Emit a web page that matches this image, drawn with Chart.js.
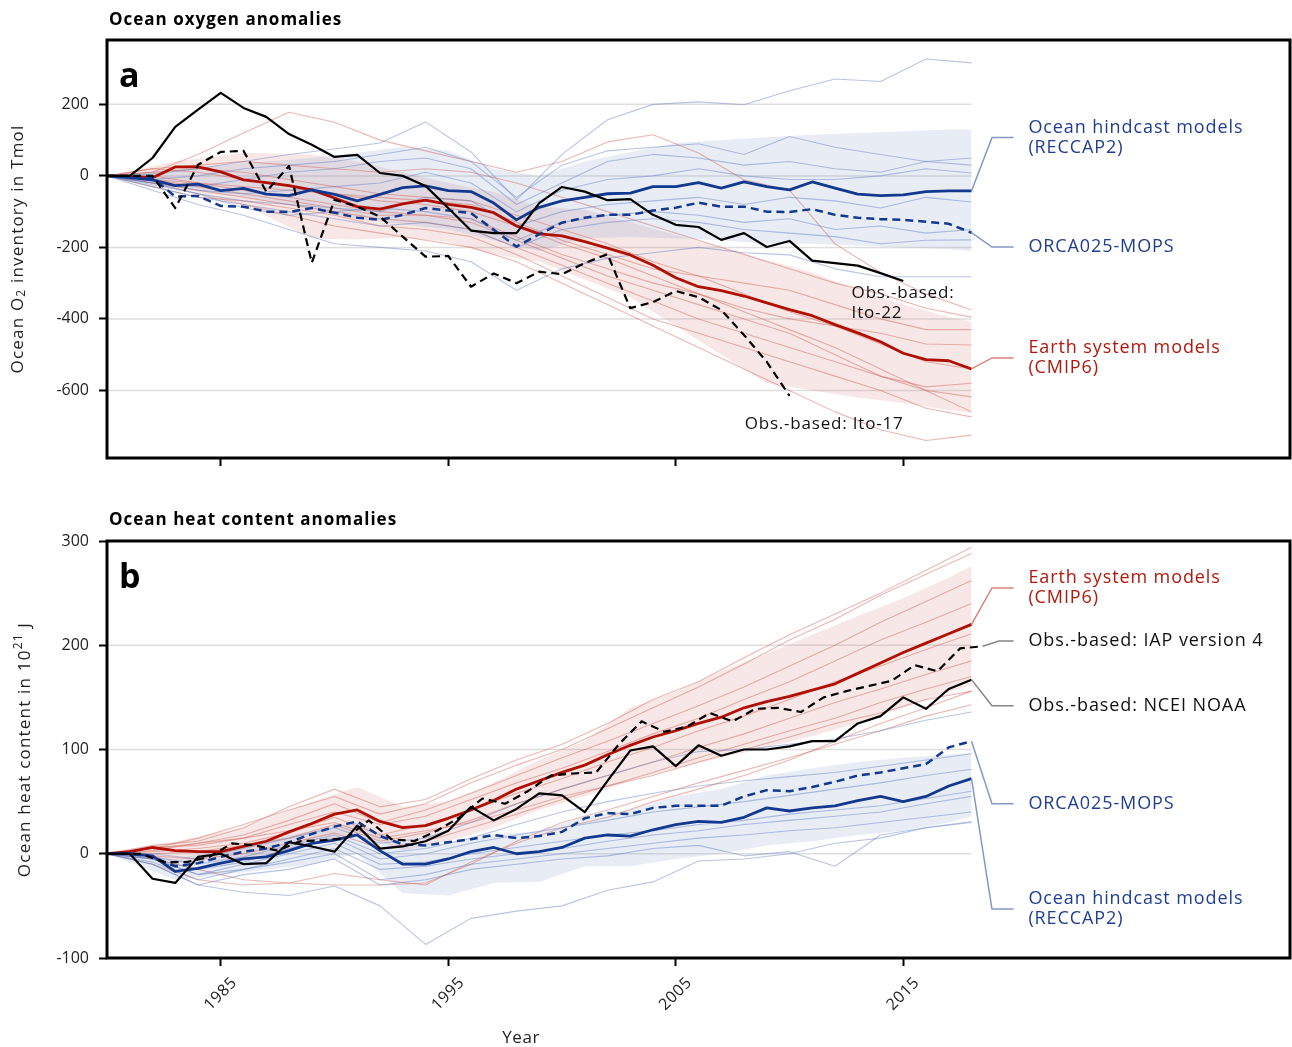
<!DOCTYPE html>
<html>
<head>
<meta charset="utf-8">
<title>Ocean oxygen and heat content anomalies</title>
<script src="https://cdn.jsdelivr.net/npm/chart.js@4.4.1/dist/chart.umd.min.js"></script>
<style>
  body { margin: 0; background: #fff; }
  canvas { position: absolute; left: 0; }
  #chartTop { top: 0; }
  #chartBottom { top: 500px; }
</style>
</head>
<body>
<canvas id="chartTop" width="1292" height="500"></canvas>
<canvas id="chartBottom" width="1292" height="547"></canvas>
<script>
// years
const years = [1980, 1981, 1982, 1983, 1984, 1985, 1986, 1987, 1988, 1989,
  1990, 1991, 1992, 1993, 1994, 1995, 1996, 1997, 1998, 1999,
  2000, 2001, 2002, 2003, 2004, 2005, 2006, 2007, 2008, 2009,
  2010, 2011, 2012, 2013, 2014, 2015, 2016, 2017, 2018];
const iapYears = [1980, 1981.5, 1982.5, 1983.5, 1984.5, 1985.5, 1986.5, 1987.5, 1988.5, 1989.5,
  1990.5, 1991.5, 1992.5, 1993.5, 1994.5, 1995.5, 1996.5, 1997.5, 1998.5, 1999.5,
  2000.5, 2001.5, 2002.5, 2003.5, 2004.5, 2005.5, 2006.5, 2007.5, 2008.5, 2009.5,
  2010.5, 2011.5, 2012.5, 2013.5, 2014.5, 2015.5, 2016.5, 2017.5, 2018.5];
const thinYears = [1980, 1982, 1984, 1986, 1988, 1990, 1992, 1994, 1996, 1998,
  2000, 2002, 2004, 2006, 2008, 2010, 2012, 2014, 2016, 2018];
const bandYears = [1980, 1983, 1986, 1989, 1991, 1993, 1995, 1997, 1999, 2001,
  2003, 2005, 2007, 2009, 2011, 2013, 2015, 2017, 2018];

// panel a: ocean O2 inventory (Tmol)
const o2EsmMean = [0, -2, -5, 25, 25, 11, -11, -19, -27, -39, -62, -86, -93, -78, -68, -80, -88, -103, -140, -162,
  -168, -184, -202, -221, -250, -285, -310, -321, -336, -355, -374, -391, -416, -439, -464, -496, -514, -517, -540];
const o2RecMean = [0, -5, -11, -27, -23, -41, -35, -51, -55, -39, -52, -70, -52, -33, -28, -41, -44, -76, -123, -88,
  -70, -60, -50, -48, -30, -30, -19, -34, -17, -30, -39, -17, -34, -51, -55, -53, -44, -42, -42];
const o2OrcaMean = [0, 0, -5, -58, -56, -84, -86, -100, -101, -90, -103, -117, -123, -109, -90, -97, -104, -151, -198, -163,
  -131, -117, -109, -109, -97, -89, -75, -86, -86, -100, -101, -93, -109, -117, -121, -123, -128, -134, -159];
const o2Ito22 = [0, 0, 50, 137, 185, 232, 190, 165, 117, 87, 53, 59, 8, 0, -28, -90, -153, -160, -160, -76,
  -31, -44, -68, -65, -109, -137, -143, -179, -160, -199, -182, -237, -244, -251, -272, -294];
const o2Ito17 = [0, 0, 0, -90, 31, 67, 70, -44, 28, -243, -67, -86, -114, -170, -226, -224, -310, -273, -300, -268,
  -275, -244, -219, -370, -353, -322, -339, -375, -445, -520, -615];
const o2RecBandHi = [0, 20, 35, 50, 65, 81, 70, 20, 0, 40, 67, 92, 100, 108, 115, 120, 125, 130, 130];
const o2RecBandLo = [0, -35, -60, -95, -120, -135, -150, -180, -210, -175, -170, -175, -180, -190, -190, -195, -200, -205, -210];
const o2EsmBandHi = [0, 40, 65, 60, 40, 10, -20, -45, -86, -95, -130, -165, -198, -235, -270, -320, -360, -395, -408];
const o2EsmBandLo = [0, -30, -80, -175, -178, -172, -185, -220, -240, -290, -340, -420, -500, -580, -600, -620, -635, -655, -663];
const o2RecModels = [
  [0, 5, 20, 40, 60, 75, 92, 151, 67, -67, 60, 157, 200, 207, 199, 238, 271, 264, 327, 316],
  [0, -10, 0, 20, 30, 40, 60, 80, 40, -60, 30, 70, 80, 90, 60, 110, 80, 60, 40, 50],
  [0, -20, -30, -10, 10, 20, 40, 50, 20, -80, -20, 40, 60, 50, 30, 40, 20, 10, 40, 30],
  [0, -15, -40, -50, -40, -30, -20, 10, -20, -100, -40, -10, 0, 20, 0, -10, -10, 0, 20, 8],
  [0, -20, -50, -70, -80, -90, -100, -60, -70, -140, -100, -80, -70, -60, -80, -60, -70, -90, -60, -73],
  [0, -30, -60, -80, -100, -120, -140, -130, -150, -200, -150, -130, -120, -130, -150, -160, -170, -190, -180, -179],
  [0, -25, -50, -90, -110, -100, -90, -100, -120, -180, -130, -110, -100, -110, -130, -120, -150, -140, -160, -150],
  [0, -40, -80, -110, -150, -190, -200, -210, -240, -320, -260, -230, -215, -200, -215, -221, -260, -282, -282, -282]
];
const o2EsmModels = [
  [0, 10, 60, 120, 178, 150, 100, 70, 40, 10, 40, 95, 115, 64, -11, -40, -190, -270, -330, -375],
  [0, 20, 30, 40, 30, 20, 10, 20, 10, -20, -60, -100, -140, -180, -220, -260, -300, -330, -370, -395],
  [0, -10, -20, -40, -60, -80, -100, -110, -120, -170, -220, -260, -300, -330, -370, -400, -420, -440, -470, -473],
  [0, -20, -40, -60, -80, -100, -120, -130, -150, -200, -250, -300, -350, -400, -440, -480, -520, -560, -600, -618],
  [0, -30, -60, -70, -90, -110, -140, -150, -170, -220, -280, -340, -400, -440, -480, -520, -560, -600, -650, -674],
  [0, -20, -50, -80, -110, -140, -160, -180, -200, -240, -300, -360, -420, -480, -540, -600, -660, -710, -740, -725],
  [0, 10, 20, 10, -10, -30, -50, -60, -70, -110, -150, -190, -240, -280, -330, -380, -420, -470, -520, -540],
  [0, 0, -20, -30, -40, -50, -60, -70, -80, -130, -180, -220, -260, -280, -300, -320, -360, -400, -430, -430],
  [0, -10, -30, -50, -70, -90, -110, -110, -130, -180, -230, -280, -320, -360, -400, -440, -500, -560, -590, -580],
  [0, 20, 10, -10, -30, -50, -70, -80, -100, -140, -190, -230, -280, -330, -380, -430, -480, -540, -600, -660]
];
const o2Ticks = [-600, -400, -200, 0, 200];

// panel b: ocean heat content (10^21 J)
const ohcEsmMean = [0, 2, 6, 3, 2, 2, 7, 12, 21, 29, 38, 42, 31, 25, 27, 34, 42, 51, 62, 70,
  78, 85, 95, 104, 112, 118, 125, 131, 140, 146, 151, 157, 163, 173, 183, 193, 202, 211, 220];
const ohcRecMean = [0, 0, -2, -17, -14, -9, -5, -3, 3, 10, 13, 18, 3, -10, -10, -5, 2, 6, 0, 2,
  6, 15, 18, 17, 23, 28, 31, 30, 35, 44, 41, 44, 46, 51, 55, 50, 55, 65, 72];
const ohcOrcaMean = [0, 0, -3, -12, -9, -3, 2, 5, 11, 19, 26, 31, 17, 9, 8, 11, 14, 18, 15, 17,
  21, 34, 39, 38, 44, 46, 46, 46, 55, 61, 60, 64, 69, 75, 78, 82, 86, 102, 108];
const ohcNcei = [0, 0, -24, -28, -3, 0, -10, -9, 11, 7, 2, 27, 5, 7, 12, 22, 45, 32, 43, 58,
  56, 40, 70, 99, 103, 84, 104, 94, 100, 100, 103, 108, 108, 125, 132, 150, 139, 158, 167];
const ohcIap = [0, 0, -8, -8, -3, 10, 8, 3, 12, 13, 15, 32, 14, 12, 22, 35, 53, 48, 60, 75,
  77, 78, 105, 127, 117, 122, 135, 127, 139, 140, 136, 150, 156, 161, 166, 181, 175, 197, 199];
const ohcRecBandHi = [0, -5, 8, 22, 30, 10, 10, 18, 22, 35, 42, 55, 62, 75, 82, 88, 92, 95, 97];
const ohcRecBandLo = [0, -25, -18, -10, 0, -38, -40, -28, -27, -12, -12, -5, 0, 8, 12, 18, 22, 30, 36];
const ohcEsmBandHi = [0, 12, 25, 50, 64, 45, 50, 68, 90, 108, 140, 155, 175, 192, 210, 228, 245, 265, 276];
const ohcEsmBandLo = [0, -8, -5, 8, 20, 3, 12, 25, 42, 55, 70, 82, 92, 102, 113, 125, 140, 155, 162];
const ohcRecModels = [
  [0, 0, -5, 5, 15, 25, 10, 15, 30, 48, 62, 75, 88, 98, 100, 105, 110, 118, 128, 136],
  [0, -3, -10, -3, 8, 18, 0, 5, 15, 28, 40, 50, 58, 65, 70, 74, 78, 84, 90, 96],
  [0, -5, -15, -8, 5, 15, -5, 0, 10, 18, 25, 32, 40, 45, 50, 56, 62, 68, 75, 81],
  [0, -5, -20, -10, 0, 10, -10, -8, 0, 6, 12, 18, 22, 28, 32, 38, 42, 46, 53, 60],
  [0, -8, -25, -15, -5, 5, -15, -12, -5, 0, 5, 12, 18, 22, 28, 32, 36, 40, 48, 55],
  [0, -5, -20, -15, -8, 0, -25, -20, -10, -5, 0, 5, 10, 15, 18, 22, 25, 30, 35, 40],
  [0, -10, -30, -20, -15, -5, -30, -25, -15, -10, -5, -2, 5, 8, -2, 2, -12, 18, 25, 31],
  [0, -10, -30, -37, -40, -31, -50, -87, -62, -55, -50, -35, -27, -7, -5, 0, 10, 15, 25, 30]
];
const ohcEsmModels = [
  [0, 8, 12, 25, 45, 62, 45, 52, 72, 90, 105, 125, 148, 165, 188, 210, 230, 250, 272, 294],
  [0, 5, 15, 28, 42, 55, 38, 48, 68, 85, 100, 120, 140, 160, 182, 205, 225, 248, 268, 288],
  [0, 3, 10, 18, 32, 48, 30, 42, 58, 75, 92, 108, 125, 142, 160, 180, 200, 222, 242, 262],
  [0, 6, 8, 15, 28, 40, 28, 36, 52, 68, 82, 98, 115, 130, 148, 165, 185, 205, 222, 240],
  [0, 2, 5, 10, 20, 35, 18, 28, 42, 58, 72, 88, 102, 118, 132, 148, 165, 180, 196, 211],
  [0, 0, 2, 8, 15, 28, 12, 20, 32, 48, 62, 75, 88, 102, 115, 130, 145, 158, 172, 185],
  [0, -2, -5, 0, 10, 20, 5, 12, 25, 38, 52, 65, 78, 92, 105, 118, 130, 145, 158, 170],
  [0, 5, 10, 15, 22, 30, 15, 22, 30, 42, 55, 65, 75, 88, 100, 112, 125, 135, 148, 156],
  [0, -5, -15, -25, -28, -30, -30, -28, -10, 12, 30, 42, 55, 68, 80, 92, 105, 118, 132, 143],
  [0, -10, -25, -30, -28, -19, -25, -30, -8, 10, 25, 35, 50, 62, 75, 90, 108, 125, 140, 156]
];
const ohcTicks = [-100, 0, 100, 200, 300];
const xTicks = [1985, 1995, 2005, 2015];

const FONT = "'Open Sans', sans-serif";
const BLUE = '#12398f';
const RED = '#b10f02';
const BLUE_TEXT = '#1f3e92';
const RED_TEXT = '#b2170c';
const BLUE_THIN = 'rgba(95,125,195,0.45)';
const RED_THIN = 'rgba(210,95,85,0.45)';
const BLUE_BAND = 'rgba(120,150,200,0.18)';
const RED_BAND = 'rgba(210,120,115,0.18)';
const BLUE_LINK = '#8399c8';
const RED_LINK = '#d9837c';
const GREY_LINK = '#858585';

function pts(xs, ys) {
  return ys.map((v, i) => ({ x: xs[i], y: v }));
}

function line(xs, ys, color, width, dash, order) {
  return {
    data: pts(xs, ys), borderColor: color, borderWidth: width, borderDash: dash || [],
    pointRadius: 0, fill: false, tension: 0, order: order, borderJoinStyle: 'round'
  };
}

function band(lo, hi, color) {
  return [
    { data: pts(bandYears, lo), borderColor: 'rgba(0,0,0,0)', borderWidth: 1, pointRadius: 0, fill: false, order: 40 },
    { data: pts(bandYears, hi), borderColor: 'rgba(0,0,0,0)', borderWidth: 1, pointRadius: 0, fill: '-1', backgroundColor: color, order: 40 }
  ];
}

const decor = {
  id: 'decor',
  beforeDatasetsDraw(chart, args, o) {
    const { ctx, chartArea: a, scales: { x, y } } = chart;
    ctx.save();
    ctx.strokeStyle = '#dedede';
    ctx.lineWidth = 1.5;
    const xEnd = x.getPixelForValue(2018);
    o.grid.forEach(v => {
      const py = y.getPixelForValue(v);
      ctx.beginPath();
      ctx.moveTo(a.left, py);
      ctx.lineTo(xEnd, py);
      ctx.stroke();
    });
    ctx.restore();
  },
  afterDraw(chart, args, o) {
    const { ctx, chartArea: a, scales: { x, y } } = chart;
    ctx.save();
    // frame
    ctx.strokeStyle = '#000';
    ctx.lineWidth = 3;
    ctx.strokeRect(a.left, a.top, a.right - a.left, a.bottom - a.top);

    // title + panel letter
    ctx.fillStyle = '#000';
    ctx.textAlign = 'left';
    ctx.textBaseline = 'middle';
    ctx.font = 'bold 17px ' + FONT;
    ctx.letterSpacing = '1px';
    ctx.fillText(o.title, a.left + 2, 20);
    ctx.letterSpacing = '0px';
    ctx.textBaseline = 'alphabetic';
    ctx.font = 'bold 34px ' + FONT;
    ctx.fillText(o.letter, a.left + 12, a.top + 47);

    // connectors and right-hand labels
    o.labels.forEach(l => {
      const x0 = x.getPixelForValue(l.from[0]), y0 = y.getPixelForValue(l.from[1]);
      const x1 = x.getPixelForValue(l.elbow), yl = y.getPixelForValue(l.at);
      const x2 = x.getPixelForValue(2019.85);
      ctx.strokeStyle = l.link;
      ctx.lineWidth = 1.5;
      ctx.beginPath();
      ctx.moveTo(x0, y0);
      ctx.lineTo(x1, yl);
      ctx.lineTo(x2, yl);
      ctx.stroke();
      ctx.fillStyle = l.color;
      ctx.font = '18px ' + FONT;
      ctx.letterSpacing = '0.9px';
      ctx.textBaseline = 'middle';
      const tx = x.getPixelForValue(2020.5);
      const n = l.text.length;
      l.text.forEach((t, i) => ctx.fillText(t, tx, yl + (i - (n - 1) / 2) * 20));
    });

    // notes next to observation lines
    ctx.fillStyle = '#111';
    ctx.font = '17px ' + FONT;
    ctx.letterSpacing = '0.8px';
    o.notes.forEach(nt => {
      nt.text.forEach((t, i) => ctx.fillText(t, x.getPixelForValue(nt.x), y.getPixelForValue(nt.y) + i * 20));
    });

    // y axis title with sub/superscripts
    ctx.translate(o.yTitleX, (a.top + a.bottom) / 2);
    ctx.rotate(-Math.PI / 2);
    ctx.fillStyle = '#222';
    ctx.letterSpacing = '1.2px';
    const fontFor = p => (p[1] === 'n' ? '17px ' : '12px ') + FONT;
    let total = 0;
    o.yTitle.forEach(p => { ctx.font = fontFor(p); total += ctx.measureText(p[0]).width; });
    let cx = -total / 2;
    o.yTitle.forEach(p => {
      ctx.font = fontFor(p);
      const dy = p[1] === 'sub' ? 4 : p[1] === 'sup' ? -6 : 0;
      ctx.fillText(p[0], cx, dy);
      cx += ctx.measureText(p[0]).width;
    });
    ctx.setTransform(1, 0, 0, 1, 0, 0);

    // rotated year labels on the lower panel
    if (o.yearLabels) {
      ctx.fillStyle = '#222';
      ctx.font = '16px ' + FONT;
      ctx.letterSpacing = '0.6px';
      ctx.textAlign = 'center';
      xTicks.forEach(v => {
        ctx.save();
        ctx.translate(x.getPixelForValue(v), a.bottom + 36);
        ctx.rotate(-Math.PI / 4);
        ctx.fillText(String(v), 0, 0);
        ctx.restore();
      });
      ctx.font = '17px ' + FONT;
      ctx.fillText('Year', x.getPixelForValue(1998.2), a.bottom + 80);
    }
    ctx.letterSpacing = '0px';
    ctx.restore();
  }
};

function axisOpts(tickValues, min, max, fitSize, isX) {
  return {
    type: 'linear', min: min, max: max,
    afterBuildTicks: s => { s.ticks = tickValues.map(v => ({ value: v })); },
    afterFit: s => { if (isX) s.height = fitSize; else s.width = fitSize; },
    ticks: { display: !isX, color: '#222', font: { family: FONT, size: 16 }, padding: 10 },
    grid: { display: true, drawOnChartArea: false, drawTicks: true, tickLength: 8, tickColor: '#000', tickWidth: 2 },
    border: { display: false }
  };
}

function makeChart(id, datasets, yTicks, yMin, yMax, padTop, xHeight, deco) {
  return new Chart(document.getElementById(id), {
    type: 'line',
    data: { datasets: datasets },
    options: {
      responsive: false, animation: false, devicePixelRatio: 1, events: [],
      layout: { padding: { top: padTop, right: 2, bottom: 0, left: 0 } },
      scales: {
        x: axisOpts(xTicks, 1980, 2032, xHeight, true),
        y: axisOpts(yTicks, yMin, yMax, 107, false)
      },
      plugins: { legend: { display: false }, tooltip: { enabled: false }, decor: deco }
    },
    plugins: [decor]
  });
}

// panel a
const o2Sets = [].concat(
  band(o2RecBandLo, o2RecBandHi, BLUE_BAND),
  band(o2EsmBandLo, o2EsmBandHi, RED_BAND),
  o2RecModels.map(m => line(thinYears, m, BLUE_THIN, 1.1, null, 30)),
  o2EsmModels.map(m => line(thinYears, m, RED_THIN, 1.1, null, 30)),
  [
    line(years, o2EsmMean, RED, 2.8, null, 20),
    line(years, o2RecMean, BLUE, 2.8, null, 18),
    line(years, o2OrcaMean, BLUE, 2.5, [8, 5], 16),
    line(years, o2Ito17, '#000', 2.2, [8, 5], 12),
    line(years, o2Ito22, '#000', 2.2, null, 10)
  ]
);

makeChart('chartTop', o2Sets, o2Ticks, -789, 380, 40, 42, {
  title: 'Ocean oxygen anomalies',
  letter: 'a',
  grid: o2Ticks,
  yTitleX: 18,
  yTitle: [['Ocean O', 'n'], ['2', 'sub'], [' inventory in Tmol', 'n']],
  labels: [
    { text: ['Ocean hindcast models', '(RECCAP2)'], color: BLUE_TEXT, link: BLUE_LINK, from: [2018, o2RecMean[38]], elbow: 2018.9, at: 107 },
    { text: ['ORCA025-MOPS'], color: BLUE_TEXT, link: BLUE_LINK, from: [2018, o2OrcaMean[38]], elbow: 2018.9, at: -199 },
    { text: ['Earth system models', '(CMIP6)'], color: RED_TEXT, link: RED_LINK, from: [2018, o2EsmMean[38]], elbow: 2018.9, at: -509 }
  ],
  notes: [
    { text: ['Obs.-based:', 'Ito-22'], x: 2012.73, y: -327 },
    { text: ['Obs.-based: Ito-17'], x: 2008.03, y: -694 }
  ],
  yearLabels: false
});

// panel b
const ohcSets = [].concat(
  band(ohcRecBandLo, ohcRecBandHi, BLUE_BAND),
  band(ohcEsmBandLo, ohcEsmBandHi, RED_BAND),
  ohcRecModels.map(m => line(thinYears, m, BLUE_THIN, 1.1, null, 30)),
  ohcEsmModels.map(m => line(thinYears, m, RED_THIN, 1.1, null, 30)),
  [
    line(years, ohcEsmMean, RED, 2.8, null, 20),
    line(years, ohcRecMean, BLUE, 2.8, null, 18),
    line(years, ohcOrcaMean, BLUE, 2.5, [8, 5], 16),
    line(iapYears, ohcIap, '#000', 2.2, [8, 5], 12),
    line(years, ohcNcei, '#000', 2.2, null, 10)
  ]
);

makeChart('chartBottom', ohcSets, ohcTicks, -100, 300, 41, 89, {
  title: 'Ocean heat content anomalies',
  letter: 'b',
  grid: [0, 100, 200],
  yTitleX: 25,
  yTitle: [['Ocean heat content in 10', 'n'], ['21', 'sup'], [' J', 'n']],
  labels: [
    { text: ['Earth system models', '(CMIP6)'], color: RED_TEXT, link: RED_LINK, from: [2018, ohcEsmMean[38]], elbow: 2018.9, at: 255 },
    { text: ['Obs.-based: IAP version 4'], color: '#111', link: GREY_LINK, from: [2018.5, ohcIap[38]], elbow: 2019.2, at: 204 },
    { text: ['Obs.-based: NCEI NOAA'], color: '#111', link: GREY_LINK, from: [2018, ohcNcei[38]], elbow: 2018.9, at: 142 },
    { text: ['ORCA025-MOPS'], color: BLUE_TEXT, link: BLUE_LINK, from: [2018, ohcOrcaMean[38]], elbow: 2018.9, at: 48 },
    { text: ['Ocean hindcast models', '(RECCAP2)'], color: BLUE_TEXT, link: BLUE_LINK, from: [2018, ohcRecMean[38]], elbow: 2018.9, at: -53 }
  ],
  notes: [],
  yearLabels: true
});
</script>
</body>
</html>
